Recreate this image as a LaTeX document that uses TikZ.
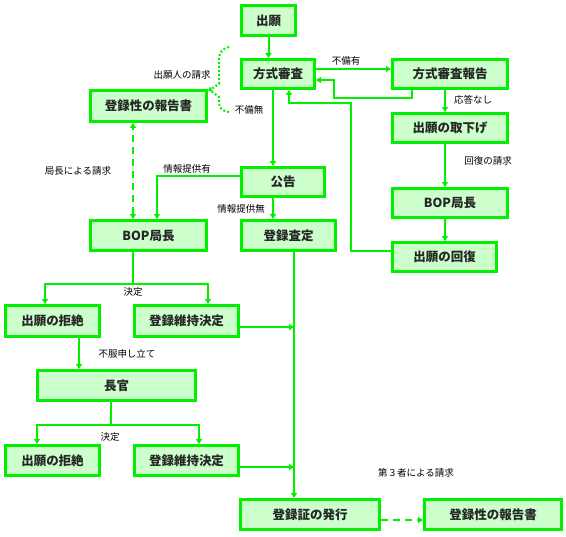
\documentclass[tikz,border=0pt]{standalone}
\usepackage{fontspec}
\newfontfamily\jp{Noto Sans CJK JP}
\usetikzlibrary{arrows.meta,calc}
\definecolor{lgreen}{RGB}{0,240,0}
\definecolor{lfill}{HTML}{CCFFCC}
\newcommand{\bx}[6]{\node[box, minimum width={#4-#2-3}, minimum height={#5-#3-3}] (#1) at ({(#2+#4)/2},{(#3+#5)/2}) {#6};}
\tikzset{
  box/.style={draw=lgreen, line width=3pt, fill=lfill, inner sep=0pt, font=\jp\bfseries\fontsize{12.5}{14}\selectfont, text=black!85},
  conn/.style={draw=lgreen, line width=2pt, -{Triangle[length=5pt,width=6pt]}},
  plain/.style={draw=lgreen, line width=2pt},
  lbl/.style={font=\jp\fontsize{9.5}{11}\selectfont, inner sep=0pt, text=black},
  dsh/.style={dash pattern=on 7pt off 5pt},
}
\begin{document}
\begin{tikzpicture}[x=1pt,y=-1pt]
\useasboundingbox (0,0) rectangle (566,537);
\bx{b1}{240}{4}{297}{37}{出願}
\bx{b2}{240}{58}{316}{90}{方式審査}
\bx{b3}{391}{58}{509}{90}{方式審査報告}
\bx{b4}{391}{112}{509}{144}{出願の取下げ}
\bx{r1}{89}{89}{208}{123}{登録性の報告書}
\bx{b5}{240}{166}{326}{198}{公告}
\bx{b6}{240}{219}{337}{252}{登録査定}
\bx{bopL}{89}{219}{208}{252}{BOP局長}
\bx{bopR}{391}{187}{509}{219}{BOP局長}
\bx{kf}{391}{241}{498}{273}{出願の回復}
\bx{rej1}{4}{304}{101}{338}{出願の拒絶}
\bx{iji1}{133}{304}{240}{338}{登録維持決定}
\bx{ch}{36}{369}{197}{402}{長官}
\bx{rej2}{4}{444}{101}{477}{出願の拒絶}
\bx{iji2}{133}{444}{240}{477}{登録維持決定}
\bx{hk}{239}{498}{381}{531}{登録証の発行}
\bx{r2}{423}{498}{563}{531}{登録性の報告書}
\coordinate (j1) at (294,327);
\coordinate (j2) at (294,467);
\coordinate (d1) at (229,47);
\coordinate (d2) at (229,112);
% connectors
\draw[conn] (b1.south) -- (b1.south |- b2.north);
\draw[conn] (b2.east |- 0,69) -- (b3.west |- 0,69);
\draw[conn] (b3.south -| 412,0) -- (412,98) -- (334,98) -- (334,80) -- (b2.east |- 0,80);
\draw[conn] (b3.south -| 445,0) -- (b4.north -| 445,0);
\draw[conn] (kf.west |- 0,251) -- (351,251) -- (351,103) -- (289,103) -- (b2.south -| 289,0);
\draw[conn] (b4.south -| 445,0) -- (bopR.north -| 445,0);
\draw[conn] (bopR.south -| 445,0) -- (kf.north -| 445,0);
\draw[conn] (b2.south -| 273,0) -- (b5.north -| 273,0);
\draw[conn] (b5.south -| 273,0) -- (b6.north -| 273,0);
\draw[conn] (b5.west |- 0,176) -- (157,176) -- (bopL.north -| 157,0);
\draw[conn, dsh, {Triangle[length=5pt,width=6pt]}-{Triangle[length=5pt,width=6pt]}] (bopL.north -| 133,0) -- (r1.south -| 133,0);
\draw[conn] (b6.south -| 294,0) -- (hk.north -| 294,0);
\draw[conn] (iji1.east |- j1) -- (j1);
\draw[conn] (iji2.east |- j2) -- (j2);
\draw[conn] (bopL.south -| 133,0) -- (133,284) -| (rej1.north -| 45,0);
\draw[conn] (bopL.south -| 133,0) -- (133,284) -| (iji1.north -| 208,0);
\draw[conn] (rej1.south -| 79,0) -- (ch.north -| 79,0);
\draw[conn] (ch.south -| 111,0) -- (111,425) -| (rej2.north -| 37,0);
\draw[conn] (ch.south -| 111,0) -- (111,425) -| (iji2.north -| 199,0);
\draw[conn, dsh] (hk.east |- 0,520) -- (r2.west |- 0,520);
% dotted bracket
\draw[lgreen, line width=2pt, dash pattern=on 2pt off 2pt, -{Triangle[length=4pt,width=5pt]}] (d1) .. controls (222,49) and (219,53) .. (219,60) -- (219,84) -- (r1.east |- 0,91);
\draw[lgreen, line width=2pt, dash pattern=on 2pt off 2pt] (d2) .. controls (222,111) and (219,108) .. (219,102) -- (219,97) -- (211,91);
% labels
\node[lbl] (l1) at (346,61) {不備有};
\node[lbl] (l2) at (473,100) {応答なし};
\node[lbl] (l3) at (488,161) {回復の請求};
\node[lbl] (l4) at (182,75) {出願人の請求};
\node[lbl] (l5) at (249,110) {不備無};
\node[lbl] (l6) at (78,171) {局長による請求};
\node[lbl] (l7) at (187,169) {情報提供有};
\node[lbl] (l8) at (241,209) {情報提供無};
\node[lbl] (l9) at (133,292) {決定};
\node[lbl] (l10) at (127,354) {不服申し立て};
\node[lbl] (l11) at (110,437) {決定};
\node[lbl] (l12) at (416,473) {第３者による請求};
\end{tikzpicture}
\end{document}
